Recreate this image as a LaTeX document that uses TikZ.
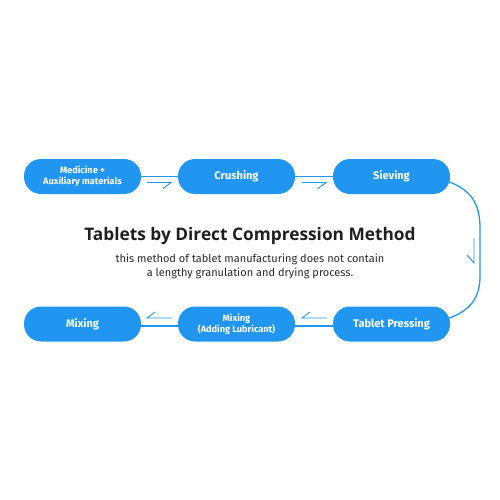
\documentclass[tikz,border=0pt]{standalone}
\usepackage{fontspec}
\setmainfont{Fira Sans}
\newfontfamily\titlefont{Open Sans}
\definecolor{bl}{RGB}{33,150,240}
\definecolor{tx}{RGB}{40,40,40}
\begin{document}
\begin{tikzpicture}[x=1pt,y=-1pt,
  stepbox/.style={draw=none,fill=bl,rounded corners=17pt,minimum width=117pt,minimum height=35pt,inner sep=0pt,text=white,font=\fontsize{11}{12}\selectfont\bfseries,align=center},
  smalltxt/.style={font=\fontsize{9.2}{11}\selectfont\bfseries},
  link/.style={draw=bl,line width=1.3pt},
  halfarrow/.style={draw=bl,line width=0.9pt}]
\useasboundingbox (0,0) rectangle (500,500);
\node[stepbox,smalltxt] (n1) at (82.5,176.5) {Medicine +\\Auxiliary materials};
\node[stepbox] (n2) at (236.5,176.5) {Crushing};
\node[stepbox] (n3) at (391.5,176.5) {Sieving};
\node[stepbox] (n6) at (82.5,324) {Mixing};
\node[stepbox,smalltxt] (n5) at (236.5,324) {Mixing\\(Adding Lubricant)};
\node[stepbox] (n4) at (391.5,324) {Tablet Pressing};
\draw[link] (n1.east) -- (n2.west);
\draw[link] (n2.east) -- (n3.west);
\draw[link] ([yshift=-2pt]n4.west) -- ([yshift=-2pt]n5.east);
\draw[link] ([yshift=-2pt]n5.west) -- ([yshift=-2pt]n6.east);
\draw[link] (448,181.5) .. controls (472,190) and (480,205) .. (480,228) -- (480,276) .. controls (480,298) and (470,311) .. (448,318.5);
% half arrow marks
\draw[halfarrow] (147,182.5) -- (171,182.5) -- (163,188.5);
\draw[halfarrow] (302,182.5) -- (326,182.5) -- (318,188.5);
\draw[halfarrow] (474,238) -- (474,263) -- (467,255);
\draw[halfarrow] (172,318) -- (147,318) -- (155,312);
\draw[halfarrow] (327,318) -- (302,318) -- (310,312);
\node[font=\titlefont\fontsize{17.3}{19}\selectfont\bfseries,text=black!88] (title) at (250,236) {Tablets by Direct Compression Method};
\node[font=\fontsize{11}{13.5}\selectfont,text=tx,align=center] (sub) at (250,266.5) {this method of tablet manufacturing does not contain\\a lengthy granulation and drying process.};
\end{tikzpicture}
\end{document}
